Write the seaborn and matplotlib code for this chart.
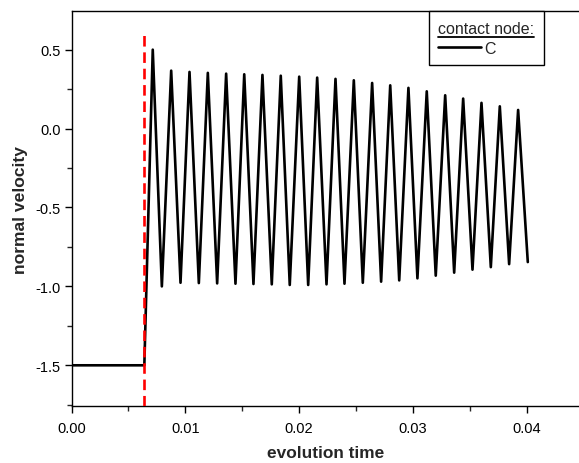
import pandas as pd
import matplotlib.pyplot as plt
import seaborn as sns
from matplotlib.ticker import MultipleLocator
from matplotlib.lines import Line2D

# Normal velocity of contact node C
time = [0.0, 0.0064,
        0.00714, 0.00794, 0.00876, 0.00958, 0.01037, 0.01119, 0.01198, 0.01280,
        0.01359, 0.01441, 0.01518, 0.01599, 0.01678, 0.01760, 0.01839, 0.01918,
        0.02001, 0.02080, 0.02159, 0.02241, 0.02320, 0.02399, 0.02481, 0.02560,
        0.02642, 0.02721, 0.02801, 0.02880, 0.02961, 0.03040, 0.03122, 0.03201,
        0.03284, 0.03363, 0.03442, 0.03524, 0.03603, 0.03685, 0.03764, 0.03846,
        0.03925, 0.0401]
velocity = [-1.5, -1.5,
            0.50, -1.00, 0.367, -0.977, 0.359, -0.979, 0.353, -0.981,
            0.348, -0.983, 0.344, -0.985, 0.340, -0.987, 0.335, -0.991,
            0.329, -0.991, 0.323, -0.987, 0.315, -0.983, 0.306, -0.977,
            0.289, -0.970, 0.274, -0.962, 0.258, -0.949, 0.236, -0.932,
            0.211, -0.913, 0.190, -0.894, 0.163, -0.878, 0.141, -0.859,
            0.118, -0.846]

contact_time = 0.0064
contact_marker_top = 0.62

df = pd.DataFrame({'time': time, 'velocity': velocity, 'node': 'C'})

sns.set_style('ticks')
plt.rcParams['font.family'] = ['Liberation Sans', 'DejaVu Sans']

fig = plt.figure(figsize=(5.79, 4.64), dpi=100)
ax = fig.add_axes([0.1235, 0.1228, 0.8765, 0.851])

sns.lineplot(data=df, x='time', y='velocity', hue='node', palette=['black'],
             sort=False, estimator=None, linewidth=1.9, ax=ax)
ax.vlines(contact_time, -1.76, contact_marker_top, colors='#ff0000',
          linestyles=(0, (4, 2.2)), linewidth=1.9, zorder=3)

ax.set_xlim(0, 0.0446)
ax.set_ylim(-1.758, 0.744)
ax.xaxis.set_major_locator(MultipleLocator(0.01))
ax.xaxis.set_minor_locator(MultipleLocator(0.005))
ax.yaxis.set_major_locator(MultipleLocator(0.5))
ax.yaxis.set_minor_locator(MultipleLocator(0.25))
ax.xaxis.set_major_formatter(plt.FormatStrFormatter('%.2f'))
ax.yaxis.set_major_formatter(plt.FormatStrFormatter('%.1f'))
ax.tick_params(which='major', direction='out', length=5, width=1, labelsize=10.5, colors='black')
ax.tick_params(which='minor', direction='out', length=3.5, width=1)
ax.tick_params(axis='x', pad=6)
ax.tick_params(axis='y', pad=3)
for side in ['left', 'bottom', 'top']:
    ax.spines[side].set_linewidth(1)
    ax.spines[side].set_color('black')
ax.spines['right'].set_visible(False)

ax.set_xlabel('evolution time', fontsize=12.4, fontweight='bold', labelpad=7)
ax.set_ylabel('normal velocity', fontsize=12.6, fontweight='bold', labelpad=5)

leg = ax.legend(title='contact node:', loc='upper right', bbox_to_anchor=(0.931, 1.0),
                borderaxespad=0, fontsize=11.5, title_fontsize=11.5, handlelength=2.7,
                handletextpad=0.15, fancybox=False, frameon=True, borderpad=0.6,
                labelspacing=0.3, alignment='left')
leg.get_frame().set_edgecolor('black')
leg.get_frame().set_linewidth(1)
leg.get_frame().set_alpha(1)

# underline the legend title
fig.canvas.draw()
bb = leg.get_title().get_window_extent().transformed(fig.transFigure.inverted())
uy = bb.y0 - 1.0 / 464
fig.add_artist(Line2D([bb.x0, bb.x1], [uy, uy], color='black', linewidth=1.3,
                      transform=fig.transFigure))

fig.savefig('out.png', dpi=100)
